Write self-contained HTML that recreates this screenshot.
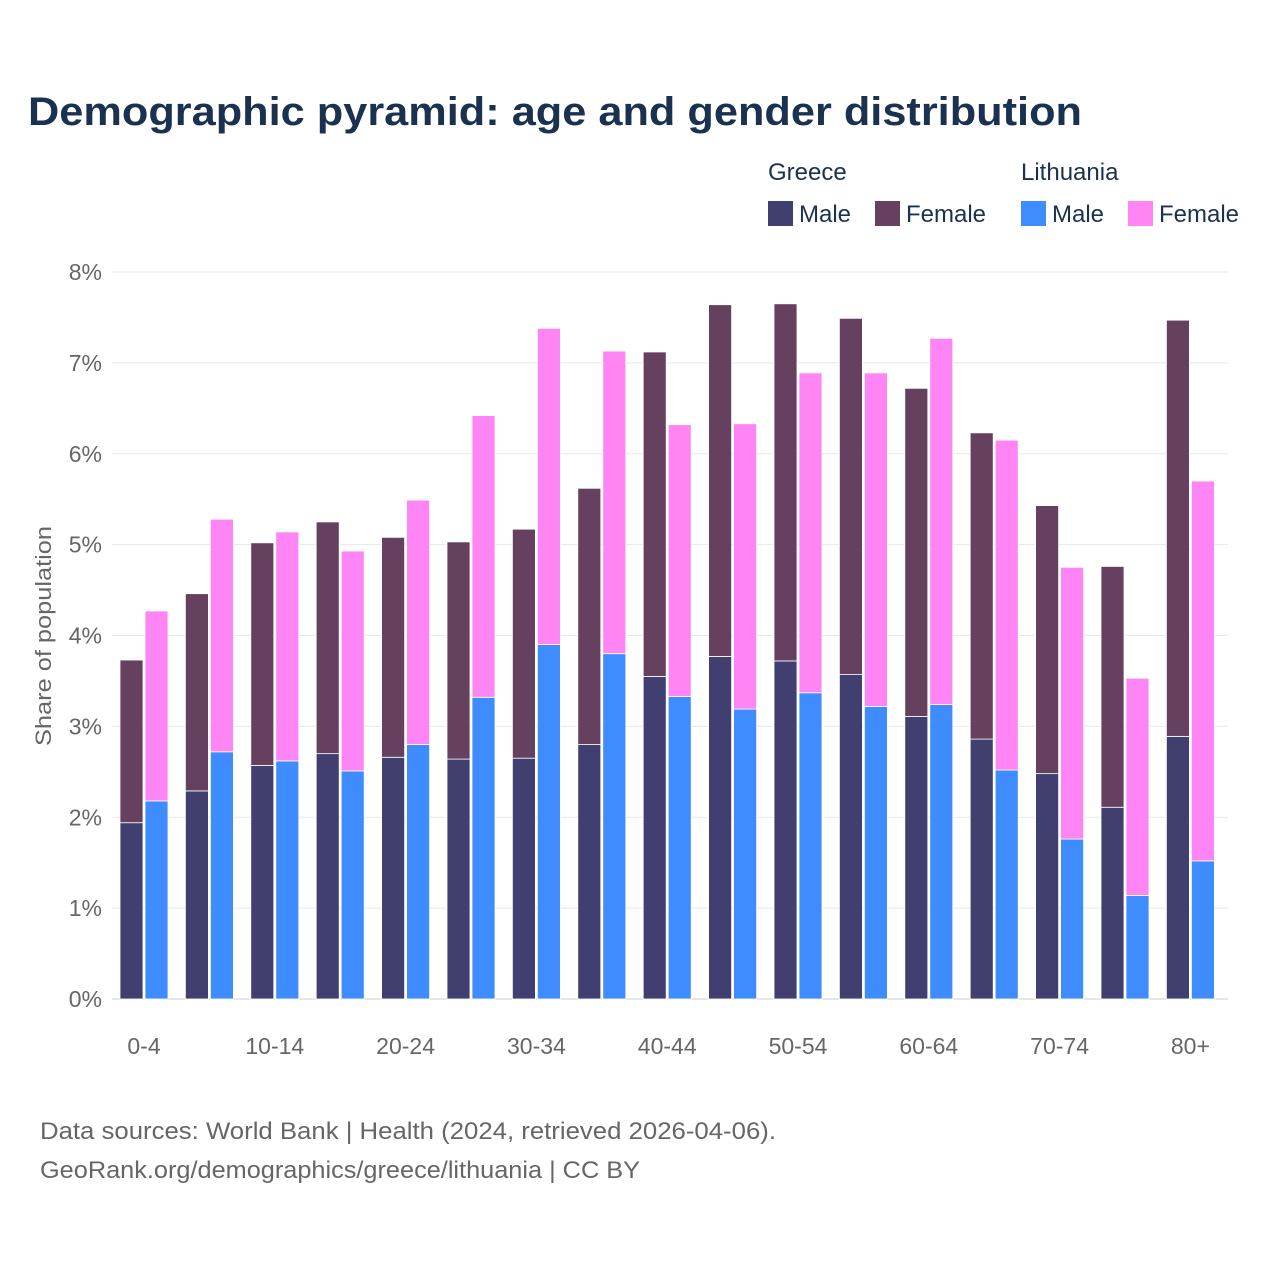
<!DOCTYPE html>
<html><head><meta charset="utf-8"><style>
html,body{margin:0;padding:0;background:#fff;}
svg{display:block;font-family:"Liberation Sans",sans-serif;}
</style></head><body>
<svg id="chart" width="1280" height="1280" viewBox="0 0 1280 1280">
<text x="28" y="125" font-size="40" font-weight="bold" fill="#1b3150" textLength="1054" lengthAdjust="spacingAndGlyphs">Demographic pyramid: age and gender distribution</text>
<g font-size="24" fill="#1b3150">
<text x="768" y="180">Greece</text>
<text x="1021" y="180">Lithuania</text>
<rect x="768" y="201" width="25" height="25" fill="#413f70"/>
<text x="799" y="222">Male</text>
<rect x="875" y="201" width="25" height="25" fill="#66405f"/>
<text x="906" y="222">Female</text>
<rect x="1021" y="201" width="25" height="25" fill="#3f8cff"/>
<text x="1052" y="222">Male</text>
<rect x="1128" y="201" width="25" height="25" fill="#ff85f5"/>
<text x="1159" y="222">Female</text>
</g>
<text transform="translate(51,636) rotate(-90)" text-anchor="middle" font-size="22" fill="#666" textLength="220" lengthAdjust="spacingAndGlyphs">Share of population</text>
<g id="grid"></g><g id="bars"></g><g id="xlabels"></g>
<text x="40" y="1139" font-size="24" fill="#666" textLength="736" lengthAdjust="spacingAndGlyphs">Data sources: World Bank | Health (2024, retrieved 2026-04-06).</text>
<text x="40" y="1178" font-size="24" fill="#666" textLength="600" lengthAdjust="spacingAndGlyphs">GeoRank.org/demographics/greece/lithuania | CC BY</text>
</svg>
<script>
const categories=["0-4","5-9","10-14","15-19","20-24","25-29","30-34","35-39","40-44","45-49","50-54","55-59","60-64","65-69","70-74","75-79","80+"];
const greeceMale=[1.94,2.29,2.57,2.70,2.66,2.64,2.65,2.80,3.55,3.77,3.72,3.57,3.11,2.86,2.48,2.11,2.89];
const greeceFemale=[1.79,2.17,2.45,2.55,2.42,2.39,2.52,2.82,3.57,3.87,3.93,3.92,3.61,3.37,2.95,2.65,4.58];
const lithuaniaMale=[2.18,2.72,2.62,2.51,2.80,3.32,3.90,3.80,3.33,3.19,3.37,3.22,3.24,2.52,1.76,1.14,1.52];
const lithuaniaFemale=[2.09,2.56,2.52,2.42,2.69,3.10,3.48,3.33,2.99,3.14,3.52,3.67,4.03,3.63,2.99,2.39,4.18];
const yTicks=[0,1,2,3,4,5,6,7,8];
const ns="http://www.w3.org/2000/svg";
const y0=999,pxPer=90.875;
const y=v=>y0-v*pxPer;
const xc=i=>144+i*65.4;
function mk(tag,attrs,parent){const e=document.createElementNS(ns,tag);for(const k in attrs)e.setAttribute(k,attrs[k]);parent.appendChild(e);return e;}
const grid=document.getElementById('grid'),bars=document.getElementById('bars'),xl=document.getElementById('xlabels');
yTicks.forEach(t=>{
 const l=mk('line',{x1:112,x2:1228,y1:y(t),y2:y(t),stroke:t===0?'#ccc':'#e8e8e8','stroke-width':1},grid);
 
 
 const tx=mk('text',{x:102,y:y(t)+8,'text-anchor':'end','font-size':23,fill:'#666'},grid);
 tx.textContent=t+'%';
 
 
});
function seg(x,v0,v1,color,name){
 const r=mk('rect',{x:x,y:y(v1),width:23,height:(v1-v0)*pxPer,fill:color,stroke:'#fff','stroke-width':0.8},bars);
 
 
}
categories.forEach((c,i)=>{
 const cx=xc(i);
 seg(cx-24,0,greeceMale[i],'#413f70','bar-greece-male');
 seg(cx-24,greeceMale[i],greeceMale[i]+greeceFemale[i],'#66405f','bar-greece-female');
 seg(cx+1,0,lithuaniaMale[i],'#3f8cff','bar-lithuania-male');
 seg(cx+1,lithuaniaMale[i],lithuaniaMale[i]+lithuaniaFemale[i],'#ff85f5','bar-lithuania-female');
 if(i%2===0){
  const t=mk('text',{x:cx,y:1054,'text-anchor':'middle','font-size':23,fill:'#666'},xl);
  t.textContent=c;
  
  
 }
});
</script>
</body></html>
